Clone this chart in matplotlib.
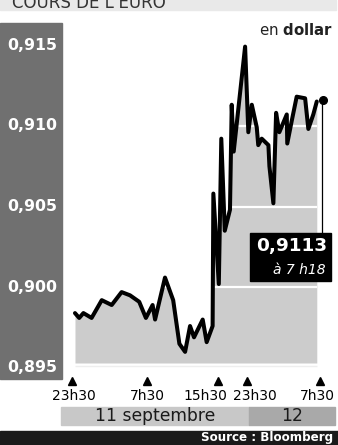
import matplotlib.pyplot as plt
from matplotlib.patches import Rectangle
from matplotlib.transforms import blended_transform_factory

# cours EUR/USD, position horizontale en unites du graphique (0 = 23h30, 100 = 7h30 le 12)
pos = [1.2, 2.9, 4.6, 7.9, 12.0, 16.0, 20.0, 23.4, 27.1, 29.8, 32.5, 33.5, 37.5,
       40.8, 43.3, 45.6, 47.6, 49.2, 52.7, 54.3, 56.7, 57.0, 59.2, 60.2, 61.6,
       63.7, 64.4, 65.2, 69.8, 71.1, 72.5, 74.5, 75.1, 76.5, 79.2, 79.6, 81.2,
       82.3, 83.6, 86.6, 86.8, 88.6, 90.6, 94.0, 95.3, 97.3, 98.7]
cours = [0.8984, 0.8981, 0.8984, 0.8981, 0.8992, 0.8989, 0.8997, 0.8995, 0.8991,
         0.8981, 0.8989, 0.8980, 0.9006, 0.8992, 0.8965, 0.8960, 0.8976, 0.8969,
         0.8980, 0.8966, 0.8976, 0.9058, 0.9002, 0.9092, 0.9035, 0.9048, 0.9113,
         0.9084, 0.9149, 0.9096, 0.9113, 0.9099, 0.9088, 0.9092, 0.9088, 0.9075,
         0.9052, 0.9108, 0.9096, 0.9107, 0.9089, 0.9103, 0.9118, 0.9117, 0.9098,
         0.9107, 0.9115]
dernier_pos = 101.1
dernier_cours = 0.9116

yticks = [0.915, 0.910, 0.905, 0.900, 0.895]
ytick_labels = ["0,915", "0,910", "0,905", "0,900", "0,895"]
grid_vals = [0.900, 0.905, 0.910]
xticks = [0, 30.2, 58.9, 70.6, 100]
xlabel_pos = [0.8, 30.2, 53.6, 73.8, 98.8]
xtick_labels = ["23h30", "7h30", "15h30", "23h30", "7h30"]
jours = ["11 septembre", "12"]
jours_limites = [(-4.4, 71.4), (71.4, 106.0)]
jours_couleurs = ["#c8c8c8", "#a9a9a9"]

W, H = 338, 445
fig = plt.figure(figsize=(W / 100, H / 100), dpi=100)
fy = lambda y: 1 - y / H

# axe principal
ax = fig.add_axes([62 / W, fy(380), 276 / W, 357 / H])
k = 0.005 / 80.75
ax.set_ylim(0.915 - (380 - 45) * k, 0.915 + 22 * k)
ax.set_xlim((62 - 72) / 2.48, (338 - 72) / 2.48)
ax.axis("off")

base = 0.915 - 318 * k
ax.fill_between(pos, cours, base, color="#cccccc", lw=0, zorder=1)
ax.hlines(grid_vals, pos[0], pos[-1], color="white", lw=1.6, zorder=2)
ax.hlines(0.915 - 321 * k, pos[0], pos[-1], color="#eeeeee", lw=1, zorder=1)
ax.plot(pos, cours, color="black", lw=2.9, solid_joinstyle="round",
        solid_capstyle="round", zorder=3)
ax.plot(dernier_pos, dernier_cours, "o", color="black", ms=5.5, zorder=4)
ax.vlines(dernier_pos - 0.3, 0.915 - 188 * k, dernier_cours, color="black",
          lw=0.9, zorder=3)

# bandeau titre (coupe en haut comme dans l'original)
fig.patches.append(Rectangle((0, fy(10)), 336 / W, 10 / H, color="#e9e9e9",
                             transform=fig.transFigure, zorder=0))
fig.text(12 / W, fy(8), "COURS DE L'EURO", fontsize=12, color="#333333",
         va="baseline", ha="left")
fig.text(333 / W, fy(30), r"en $\mathbf{dollar}$", fontsize=10.8,
         color="#222222", ha="right", va="center")

# colonne de gauche
fig.patches.append(Rectangle((0, fy(379)), 62 / W, 356 / H, color="#707070",
                             transform=fig.transFigure, zorder=0))
ylab_tr = blended_transform_factory(fig.transFigure, ax.transData)
for v, lab in zip(yticks, ytick_labels):
    fig.text(7 / W, v, lab, transform=ylab_tr, color="white", fontsize=11.3,
             fontweight="bold", ha="left", va="center")

# axe des temps
xtr = blended_transform_factory(ax.transData, fig.transFigure)
ax.plot(xticks, [fy(380.5)] * len(xticks), "^", color="black", ms=5.5,
        transform=xtr, clip_on=False)
for x, lab in zip(xlabel_pos, xtick_labels):
    ax.text(x, fy(396), lab, transform=xtr, fontsize=10, ha="center",
            va="center", color="black")
for (x0, x1), lab, c in zip(jours_limites, jours, jours_couleurs):
    ax.add_patch(Rectangle((x0, fy(425)), x1 - x0, 18 / H, color=c,
                           transform=xtr, clip_on=False, zorder=0))
    ax.text((x0 + x1) / 2, fy(416), lab, transform=xtr, fontsize=12.3,
            ha="center", va="center", color="#1a1a1a")

# encadre valeur
fig.patches.append(Rectangle((250 / W, fy(281)), 81 / W, 48 / H,
                             color="black", transform=fig.transFigure, zorder=5))
fig.text(327 / W, fy(246), "0,9113", color="white", fontsize=13.3,
         fontweight="bold", ha="right", va="center", zorder=6)
fig.text(326 / W, fy(270), "à 7 h18", color="white", fontsize=10,
         style="italic", ha="right", va="center", zorder=6)

# source
fig.patches.append(Rectangle((0, 0), 1, 14 / H, color="#1a1a1a",
                             transform=fig.transFigure, zorder=0))
fig.text(333 / W, fy(438), "Source : Bloomberg", color="white", fontsize=8.6,
         fontweight="bold", ha="right", va="center")

fig.savefig("out.png", dpi=100)
